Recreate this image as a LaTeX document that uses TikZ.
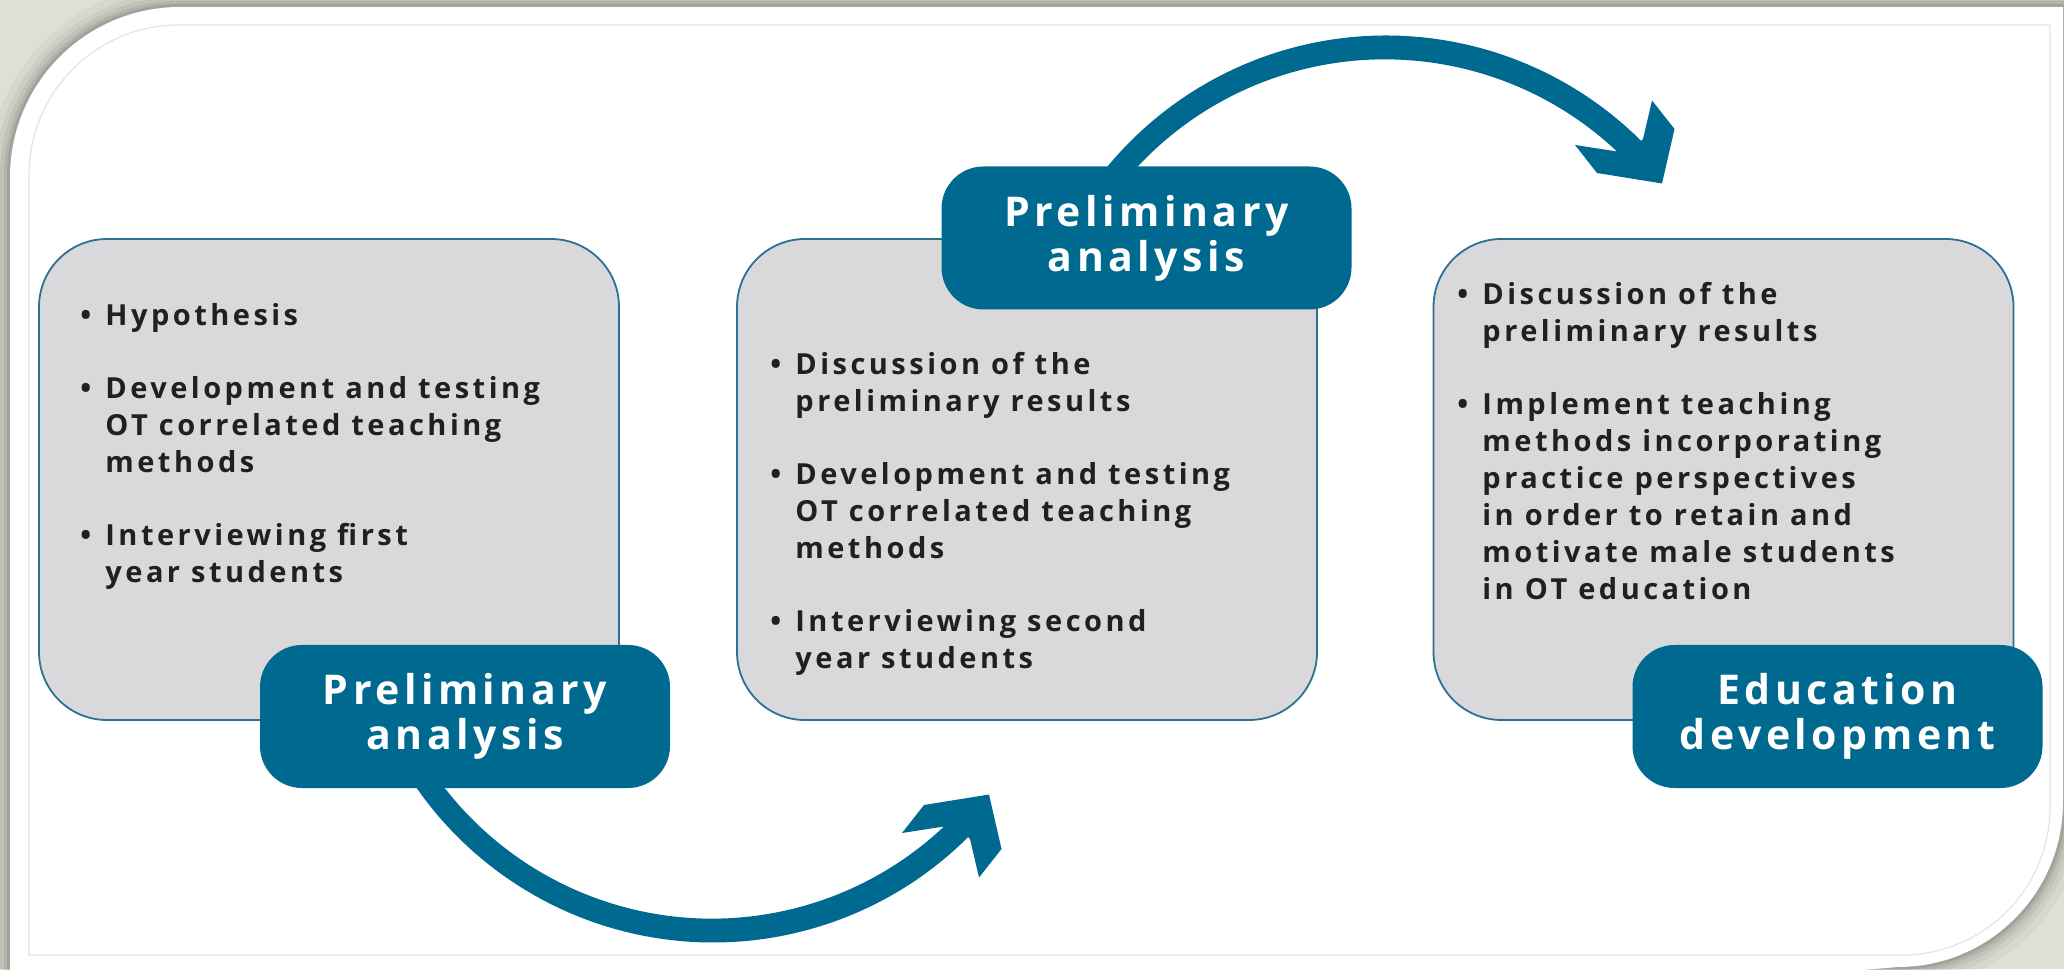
\documentclass[tikz,border=0pt]{standalone}
\usepackage{fontspec}
\newfontfamily\bodyfont{Open Sans}[LetterSpace=12]
\newfontfamily\labelfont{Open Sans}[LetterSpace=11]
\usetikzlibrary{calc}

\definecolor{bgtone}{RGB}{222,224,212}
\definecolor{deepblue}{RGB}{0,105,143}
\definecolor{boxgray}{RGB}{217,217,220}
\definecolor{boxedge}{RGB}{46,112,146}
\definecolor{framegray}{RGB}{228,228,228}
\definecolor{inkdark}{RGB}{35,31,32}

% bullet and hanging indent for the item lists
\newcommand\bul{\makebox[12.5pt][l]{\textbullet}}
\newcommand\cont{\hspace*{12.5pt}}

\tikzset{
  stagebox/.style={draw=boxedge, line width=0.9pt, fill=boxgray, rounded corners=34pt,
    minimum width=290pt, minimum height=240.5pt, inner sep=0pt, outer sep=0pt},
  phasebox/.style={fill=deepblue, rounded corners=21pt, minimum width=205pt,
    minimum height=71.5pt, inner sep=0pt, outer sep=0pt, text=white, align=center,
    font=\labelfont\bfseries\fontsize{20.5}{22.5}\selectfont},
  itemtext/.style={anchor=base west, inner sep=0pt, text=inkdark,
    font=\bodyfont\bfseries\fontsize{14.5}{18.5}\selectfont},
}

\begin{document}
\begin{tikzpicture}[x=0.5pt,y=0.5pt]
\useasboundingbox (0,0) rectangle (2064,969);
\fill[bgtone] (0,0) rectangle (2064,969);

% white sheet with a soft shadow round it
\path[save path=\sheet] (10,-40) -- (10,792) arc[start angle=180,end angle=90,radius=170]
  -- (2063,962) -- (2063,167) arc[start angle=0,end angle=-90,radius=165] -- (1898,2) -- (1400,-40) -- cycle;
\foreach \w/\o in {44/0.035,30/0.045,20/0.06,12/0.07,6/0.09}{
  \draw[use path=\sheet, line width=\w*0.5pt, black, opacity=\o];
}
\fill[white, use path=\sheet];

% thin inner frame
\draw[framegray, line width=0.6pt] (29,14) -- (29,794) arc[start angle=180,end angle=90,radius=150]
  -- (2050,944) -- (2050,162) arc[start angle=0,end angle=-90,radius=148] -- cycle;

% stage boxes
\node[stagebox] (B1) at (329,489.5) {};
\node[stagebox] (B2) at (1027,489.5) {};
\node[stagebox] (B3) at (1723.5,489.5) {};

% item lists
\node[itemtext] (T1) at (80,643) {\begin{tabular}[t]{@{}l@{}}
\bul Hypothesis\\[18pt]
\bul Development and testing\\
\cont OT correlated teaching\\
\cont methods\\[18pt]
\bul Interviewing first\\
\cont year students
\end{tabular}};
\node[itemtext] (T2) at (770,594) {\begin{tabular}[t]{@{}l@{}}
\bul Discussion of the\\
\cont preliminary results\\[18pt]
\bul Development and testing\\
\cont OT correlated teaching\\
\cont methods\\[18pt]
\bul Interviewing second\\
\cont year students
\end{tabular}};
\node[itemtext] (T3) at (1457,664) {\begin{tabular}[t]{@{}l@{}}
\bul Discussion of the\\
\cont preliminary results\\[18pt]
\bul Implement teaching\\
\cont methods incorporating\\
\cont practice perspectives\\
\cont in order to retain and\\
\cont motivate male students\\
\cont in OT education
\end{tabular}};

% curved arrows: centres of the two bends
\coordinate (lowbend) at (713,388);
\coordinate (highbend) at (1386,572);

\begin{scope}[shift={(lowbend)}]
\fill[deepblue] (200:361.5) arc[start angle=200,end angle=314.9,radius=361.5]
  -- (257,-258) -- (266,-296.5) -- (288.5,-268) -- (276,-213.5) -- (211,-224) -- (189,-252)
  -- (231,-245.5) arc[start angle=313.3,end angle=200,radius=338.5] -- cycle;
\end{scope}
\begin{scope}[shift={(highbend)}]
\fill[deepblue] (160:361.5) arc[start angle=160,end angle=45.1,radius=361.5]
  -- (257,258) -- (266,296.5) -- (288.5,268) -- (276,213.5) -- (211,224) -- (189,252)
  -- (231,245.5) arc[start angle=46.7,end angle=160,radius=338.5] -- cycle;
\end{scope}

% phase labels
\node[phasebox] (L1) at (465,252.5) {Preliminary\\analysis};
\node[phasebox] (L2) at (1146.5,731) {Preliminary\\analysis};
\node[phasebox] (L3) at (1837.5,252.5) {Education\\development};
\end{tikzpicture}
\end{document}
